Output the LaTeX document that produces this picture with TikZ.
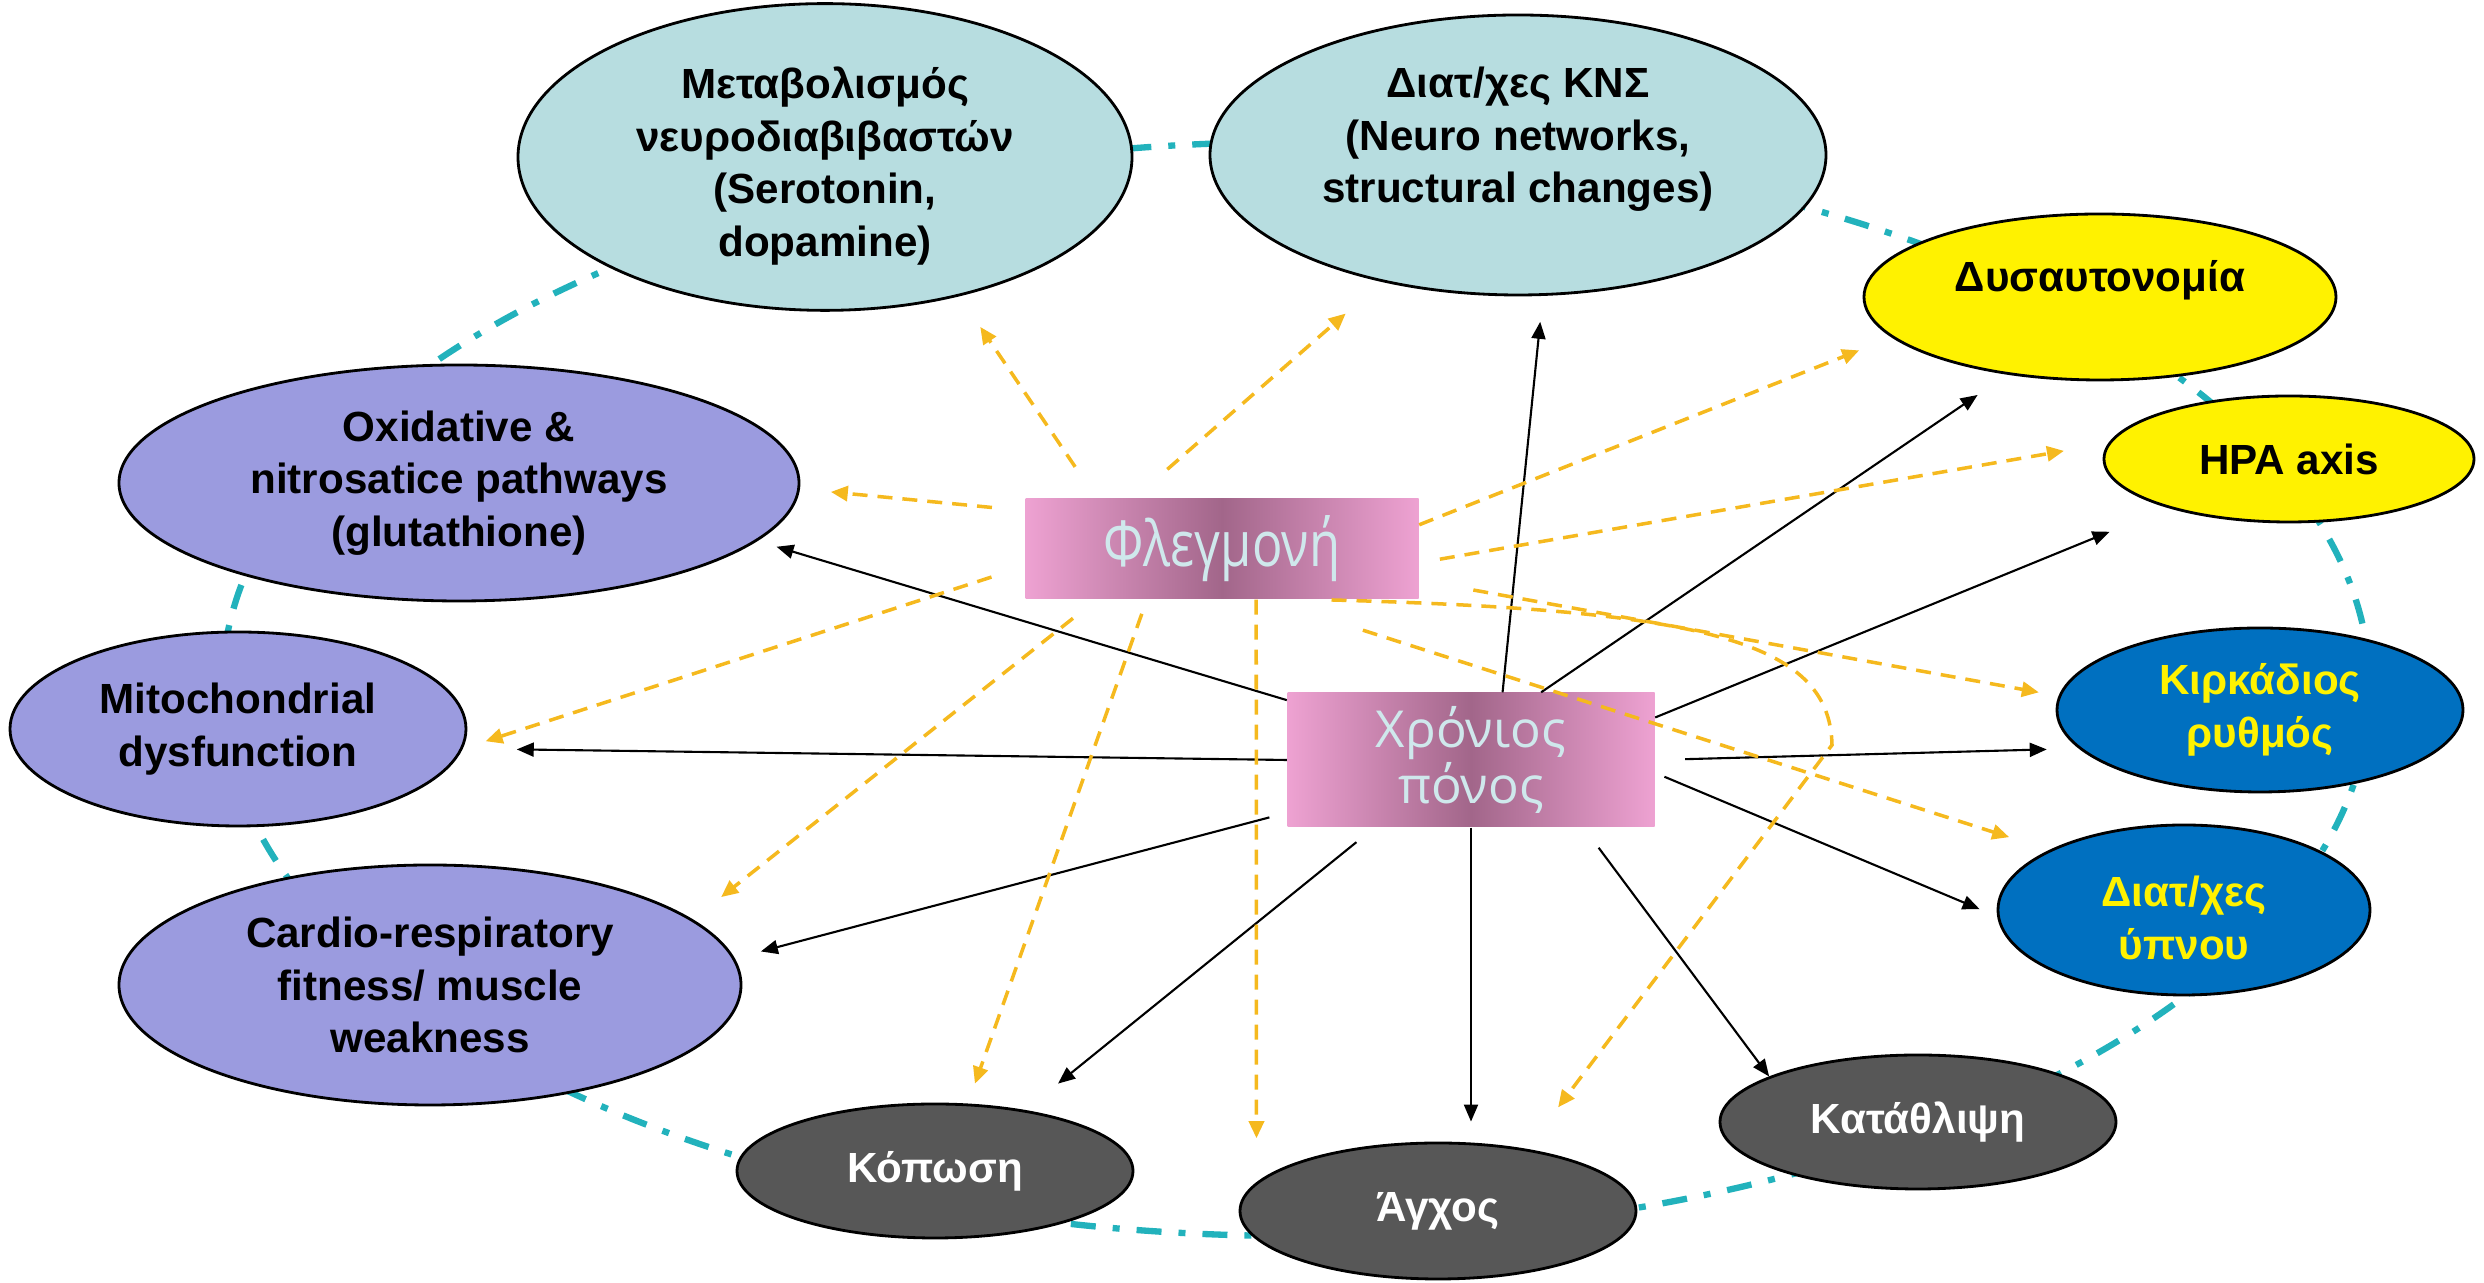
\documentclass[tikz,border=0pt]{standalone}
\usepackage{fontspec}
\setmainfont{Liberation Sans}
\newfontfamily\hubfont{Open Sans}
\newfontfamily\hubnarrow[FakeStretch=0.8]{Open Sans}
\usepackage{tikz}
\usepackage{xcolor}
\definecolor{lightteal}{HTML}{B7DDE0}
\definecolor{lavender}{HTML}{9B9BDF}
\definecolor{deepblue}{HTML}{0070C0}
\definecolor{darkgrey}{HTML}{575757}
\definecolor{ringteal}{HTML}{22B2BC}
\definecolor{inflcol}{HTML}{F5B91E}
\definecolor{pinkout}{HTML}{EEA2D2}
\definecolor{pinkmid}{HTML}{A2668A}
\definecolor{hubtext}{HTML}{CFE8EC}
\tikzset{bubble/.style={ellipse, draw=black, line width=0.8pt, inner sep=0pt,
   align=center, font=\bfseries\fontsize{12}{15}\selectfont},
 neuro/.style={bubble, fill=lightteal},
 cellular/.style={bubble, fill=lavender},
 autonomic/.style={bubble, fill=yellow},
 rhythm/.style={bubble, fill=deepblue, text=yellow},
 mood/.style={bubble, fill=darkgrey, text=white},
 hub/.style={rectangle, inner sep=0pt, left color=pinkout, right color=pinkout,
   middle color=pinkmid, text=hubtext, align=center},
 pain/.style={draw=black, line width=0.6pt, -{Triangle[length=1.7mm,width=1.4mm]}},
 infl/.style={draw=inflcol, line width=1pt, dash pattern=on 1.5mm off 1mm,
   -{Triangle[length=1.7mm,width=1.5mm]}},
 cycleline/.style={draw=ringteal, line width=1.8pt,
   dash pattern=on 2.5mm off 1.7mm on 0.7mm off 1.7mm},
 }
\usetikzlibrary{shapes}
\usetikzlibrary{arrows.meta}

\begin{document}
\begin{tikzpicture}
        \useasboundingbox (0,0) rectangle (24.84,-12.83);
        \draw [cycleline] (12.96,-6.89) ellipse [x radius=10.74, y radius=5.47];
        % outer ring
        \node [neuro, minimum width=6.14cm, minimum height=2.76cm] (Meta) at (8.25,-1.57) {\rule{0pt}{5mm}Μεταβολισμός\\νευροδιαβιβαστών\\(Serotonin,\\dopamine)};
        \node [neuro, minimum width=6.16cm, minimum height=2.80cm] (KNS) at (15.18,-1.55) {Διατ/χες ΚΝΣ\\(Neuro networks,\\structural changes)\rule[-4mm]{0pt}{4mm}};
        \node [autonomic, minimum width=4.72cm, minimum height=1.66cm] (Dys) at (21.00,-2.97) {Δυσαυτονομία\rule[-4.3mm]{0pt}{4.3mm}};
        \node [autonomic, minimum width=3.70cm, minimum height=1.26cm] (HPA) at (22.89,-4.59) {HPA axis};
        \node [rhythm, minimum width=4.06cm, minimum height=1.64cm] (Kirk) at (22.60,-7.10) {Κιρκάδιος\\ρυθμός};
        \node [rhythm, minimum width=3.72cm, minimum height=1.70cm] (Ypn) at (21.84,-9.10) {\rule{0pt}{4.6mm}Διατ/χες\\ύπνου};
        \node [mood, minimum width=3.96cm, minimum height=1.34cm] (Kat) at (19.18,-11.22) {Κατάθλιψη};
        \node [mood, minimum width=3.96cm, minimum height=1.36cm] (Agx) at (14.38,-12.11) {Άγχος};
        \node [mood, minimum width=3.96cm, minimum height=1.34cm] (Kop) at (9.35,-11.71) {Κόπωση};
        \node [cellular, minimum width=6.22cm, minimum height=2.40cm] (Cardio) at (4.30,-9.85) {Cardio-respiratory\\fitness/ muscle\\weakness};
        \node [cellular, minimum width=4.56cm, minimum height=1.94cm] (Mito) at (2.38,-7.29) {Mitochondrial\\dysfunction};
        \node [cellular, minimum width=6.80cm, minimum height=2.36cm] (Ox) at (4.59,-4.83) {Oxidative \&\\nitrosatice pathways\\(glutathione)};
        % centre
        \node [hub, minimum width=3.93cm, minimum height=1.00cm, font=\hubnarrow\fontsize{18}{18}\selectfont] (F) at (12.22,-5.49) {Φλεγμονή};
        \node [hub, minimum width=3.67cm, minimum height=1.34cm, font=\hubfont\fontsize{14.5}{14.5}\selectfont] (C) at (14.71,-7.60) {Χρόνιος\\πόνος};

        \draw [pain, shorten >=2mm] (C.162) -- (Ox.-11);
        \draw [pain, shorten >=5.4mm] (C.180) -- (Mito.-5);
        \draw [pain, shorten <=1.8mm, shorten >=2.7mm] (C.196) -- (Cardio.5);
        \draw [pain, shorten <=2.3mm, shorten >=4.2mm] (C.215) -- (Kop.34);
        \draw [pain, shorten >=2mm] (C.south) -- (C.south |- Agx.north);
        \draw [pain, shorten <=2.5mm] (C.-31) -- (Kat.163);
        \draw [pain, shorten <=1mm, shorten >=1.9mm] (C.-4) -- (Ypn.182);
        \draw [pain, shorten <=3mm, shorten >=3.2mm] (C.east) -- (Kirk.192);
        \draw [pain, shorten >=6.3mm] (C.13) -- (HPA.202);
        \draw [pain, shorten >=3.6mm] (C.44) -- (Dys.220);
        \draw [pain, shorten >=2.6mm] (C.65) -- (KNS.-80);

        \draw [infl, shorten <=3.8mm, shorten >=3.7mm] (F.158) -- (Meta.-46);
        \draw [infl, shorten <=4.4mm, shorten >=4.8mm] (F.150) -- (KNS.223);
        \draw [infl, shorten <=3.3mm, shorten >=3.1mm] (F.169) -- (Ox.-1);
        \draw [infl, shorten >=3.5mm] (F.7) -- (Dys.191);
        \draw [infl, shorten <=2.1mm, shorten >=4.5mm] (F.-4) -- (HPA.175);
        \draw [infl, shorten <=3.5mm, shorten >=2.4mm] (F.185) -- (Mito.-5);
        \draw [infl, shorten <=3mm, shorten >=3.6mm] (F.202) -- (Cardio.14);
        \draw [infl, shorten <=1.5mm, shorten >=2.1mm] (F.214) -- (Kop.64);
        \draw [infl, shorten >=4.4mm] (F.-56) -- (Agx.171);
        \draw [infl, shorten <=1mm, shorten >=5.2mm] (F.-27) .. controls (17.00,-6.10) and (18.30,-6.40) .. (18.32,-7.45) -- (Agx.35);
        \draw [infl, shorten <=5.5mm, shorten >=2mm] (F.-9) -- (Kirk.176);
        \draw [infl, shorten <=10mm, shorten >=4.2mm] (F.-48) -- (Ypn.156);
    \end{tikzpicture}
\end{document}
